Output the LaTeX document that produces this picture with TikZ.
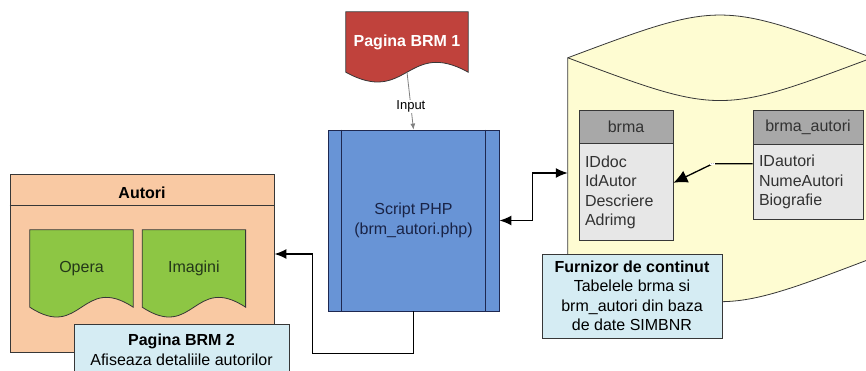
\documentclass[tikz,border=0pt]{standalone}
\usepackage{fontspec}
\setmainfont{Liberation Sans}
\usetikzlibrary{positioning,calc,arrows.meta}
\definecolor{boxline}{RGB}{55,55,55}
\definecolor{autoripeach}{RGB}{249,201,163}
\definecolor{docgreen}{RGB}{141,198,68}
\definecolor{doctext}{RGB}{35,55,25}
\definecolor{brmred}{RGB}{192,66,60}
\definecolor{scriptblue}{RGB}{104,148,214}
\definecolor{scriptline}{RGB}{30,40,80}
\definecolor{scripttext}{RGB}{25,35,70}
\definecolor{dbyellow}{RGB}{254,252,210}
\definecolor{tabgray}{RGB}{168,168,168}
\definecolor{tablight}{RGB}{231,231,231}
\definecolor{tabtext}{RGB}{50,50,50}
\definecolor{noteblue}{RGB}{213,236,243}
\pgfdeclarelayer{back}
\pgfdeclarelayer{mid}
\pgfsetlayers{back,mid,main}
\begin{document}
\begin{tikzpicture}[x=1pt, y=1pt, font={\fontsize{16}{19.5}\selectfont},
    box/.style={draw=boxline, line width=0.8pt, inner sep=0pt, align=center},
    doc/.style={inner sep=0pt, minimum width=#1},
    tabhead/.style={box, fill=tabgray, text=tabtext},
    tabbody/.style={box, fill=tablight, text=tabtext, align=left, inner xsep=6pt},
    note/.style={box, fill=noteblue, text=black},
    conn/.style={line width=1.6pt, black}]
  \useasboundingbox (0,0) rectangle (866,371);
  \clip (0,0) rectangle (866,371);
  % page Autori and database
  \begin{pgfonlayer}{back}
    \node[box, fill=autoripeach, minimum width=264, minimum height=178] (autori) at (142,108) {};
    \draw[boxline, line width=0.8pt] ([yshift=-32pt]autori.north west) -- ([yshift=-32pt]autori.north east);
    \node[inner sep=0pt, minimum width=304, minimum height=200] (db) at (720,213) {};
    \draw[boxline, line width=0.8pt, fill=dbyellow] (db.north west) .. controls ($(db.north)+(0,57)$) .. (db.north east)
      -- (db.south east) .. controls ($(db.south)+(0,-58)$) .. (db.south west) -- cycle;
    \draw[boxline, line width=0.8pt] (db.north west) .. controls ($(db.north)+(0,-57)$) .. (db.north east);
  \end{pgfonlayer}
  \node[font={\fontsize{16}{19.5}\selectfont\bfseries}] (autorititle) at (142,178) {Autori};
  % documents
  \node[doc=122, minimum height=60, text=white, font={\fontsize{16}{19.5}\selectfont\bfseries}] (brm1) at (407,329) {Pagina BRM 1};
  \node[doc=103, minimum height=77, text=doctext] (opera) at (81.5,102.5) {Opera};
  \node[doc=103, minimum height=77, text=doctext, right=9pt of opera] (imagini) {Imagini};
  \begin{pgfonlayer}{mid}
    \foreach \d/\c in {brm1/brmred, opera/docgreen, imagini/docgreen}
      \draw[boxline, line width=0.8pt, fill=\c] (\d.north west) -- (\d.north east) -- (\d.south east)
        .. controls ($(\d.south)+(0,34)$) and ($(\d.south)+(0,-34)$) .. (\d.south west) -- cycle;
  \end{pgfonlayer}
  % script
  \node[box, draw=scriptline, fill=scriptblue, text=scripttext, minimum width=171, minimum height=181] (script) at (413.5,150.5) {Script PHP\\(brm\_autori.php)};
  \draw[scriptline, line width=0.8pt] ([xshift=14pt]script.north west) -- ([xshift=14pt]script.south west)
    ([xshift=-14pt]script.north east) -- ([xshift=-14pt]script.south east);
  % tables
  \node[tabhead, minimum width=94, minimum height=33] (brma) at (626,244.5) {brma};
  \node[tabbody, below=0pt of brma, text width=82pt, minimum height=97] (brmaf) {IDdoc\\IdAutor\\Descriere\\Adrimg};
  \node[tabhead, minimum width=110, minimum height=34] (brmau) at (808,244) {brma\_autori};
  \node[tabbody, below=0pt of brmau, text width=98pt, minimum height=75] (brmauf) {IDautori\\NumeAutori\\Biografie};
  % notes
  \node[note, minimum width=180, minimum height=84] (furnizor) at (632,75) {\textbf{Furnizor de continut}\\Tabelele brma si\\brm\_autori din baza\\de date SIMBNR};
  \node[note, minimum width=215, minimum height=52] (brm2) at (181.5,21) {\textbf{Pagina BRM 2}\\Afiseaza detaliile autorilor};
  % connectors
  \draw[gray, line width=0.8pt, -{Latex[length=6pt,width=5pt]}] (brm1.south) -- (script.north)
    node[pos=0.6, fill=white, text=black, inner sep=1pt, font={\fontsize{13}{15}\selectfont}] {Input};
  \draw[conn, -{Latex[length=12pt,width=10pt]}] (script.south) -- ++(0,-42) -| ([xshift=38pt,yshift=9pt]autori.east) -- ([yshift=9pt]autori.east);
  \draw[conn, {Latex[length=12pt,width=10pt]}-{Latex[length=12pt,width=10pt]}] (script.east) -- ++(33,0) |- ([yshift=-15pt]db.west);
  \draw[conn, line width=1.3pt, -{Latex[length=14pt,width=13pt]}] ([yshift=18.5pt]brmauf.west) -- ++(-40,0)
    node[fill=white, inner sep=1pt, font=\tiny] {..} -- ([yshift=9.5pt]brmaf.east);
\end{tikzpicture}
\end{document}
